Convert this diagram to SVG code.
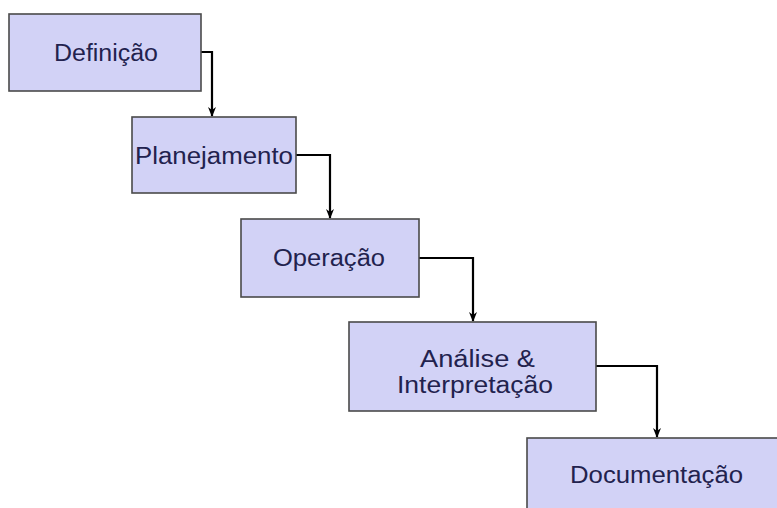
<svg xmlns="http://www.w3.org/2000/svg" width="777" height="508" viewBox="0 0 777 508">
<defs>
<style>
.box{fill:#d2d2f6;stroke:#4a4a4a;stroke-width:1.6}
.lbl{font-family:"Liberation Sans",Arial,sans-serif;font-size:23px;fill:#22224e}
.con{fill:none;stroke:#000;stroke-width:2.2}
</style>
<marker id="arr" viewBox="0 0 10 10" refX="9" refY="5" markerWidth="10" markerHeight="10" orient="auto" markerUnits="userSpaceOnUse">
<path d="M0,1 L10,5 L0,9 L3,5 Z" fill="#000"/>
</marker>
</defs>
<rect width="777" height="508" fill="#fff"/>
<g id="connectors">
<path class="con" d="M201,52 H212 V116" marker-end="url(#arr)"/>
<path class="con" d="M296,155 H330 V218" marker-end="url(#arr)"/>
<path class="con" d="M419,258 H473 V321" marker-end="url(#arr)"/>
<path class="con" d="M596,366 H657 V437" marker-end="url(#arr)"/>
</g>
<g id="n1"><rect class="box" x="9" y="14" width="192" height="77"/>
<text class="lbl" x="54" y="61" textLength="104" lengthAdjust="spacingAndGlyphs">Definição</text></g>
<g id="n2"><rect class="box" x="132" y="117" width="164" height="76"/>
<text class="lbl" x="135" y="164" textLength="158" lengthAdjust="spacingAndGlyphs">Planejamento</text></g>
<g id="n3"><rect class="box" x="241" y="219" width="178" height="78"/>
<text class="lbl" x="273" y="266" textLength="112" lengthAdjust="spacingAndGlyphs">Operação</text></g>
<g id="n4"><rect class="box" x="349" y="322" width="247" height="89"/>
<text class="lbl" x="420" y="367" textLength="115" lengthAdjust="spacingAndGlyphs">Análise &amp;</text>
<text class="lbl" x="397" y="393" textLength="156" lengthAdjust="spacingAndGlyphs">Interpretação</text></g>
<g id="n5"><rect class="box" x="527" y="438" width="270" height="90"/>
<text class="lbl" x="570" y="483" textLength="173" lengthAdjust="spacingAndGlyphs">Documentação</text></g>
</svg>
